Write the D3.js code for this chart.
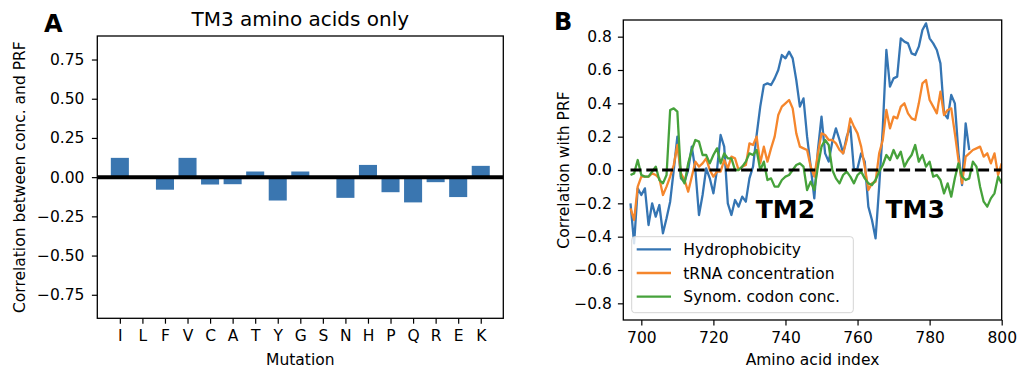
<!DOCTYPE html>
<html>
<head>
<meta charset="utf-8">
<script src="https://cdn.jsdelivr.net/npm/d3@7"></script>
<style>
  html, body { margin: 0; padding: 0; background: #fff; }
  svg { display: block; }
  text { font-family: "DejaVu Sans", sans-serif; fill: #000; }
</style>
</head>
<body>
<svg id="fig" width="1018" height="368"></svg>
<script>
// ---- Panel A: correlation per substituted amino acid (TM3 only) ----
const mutations = ["I","L","F","V","C","A","T","Y","G","S","N","H","P","Q","R","E","K"];
const tm3Correlation = [0.123, 0, -0.08, 0.123, -0.047, -0.045, 0.036, -0.149, 0.036, 0, -0.132, 0.078, -0.096, -0.161, -0.032, -0.127, 0.072];
const tickValuesA = [-0.75, -0.5, -0.25, 0, 0.25, 0.5, 0.75];

// ---- Panel B: sliding correlation with PRF along the sequence ----
const firstResidue = 697;
const hydrophobicity = [
  -0.20, -0.44, -0.11, -0.15, -0.11, -0.33, -0.20, -0.28, -0.21, -0.38,
  -0.29, -0.19,  0.00,  0.20, -0.05, -0.07,  0.00,  0.14,  0.00, -0.27,
  -0.15,  0.01, -0.05, -0.14,  0.00,  0.21,  0.14, -0.20, -0.27, -0.18,
  -0.22, -0.16, -0.19, -0.05,  0.02,  0.21,  0.38,  0.51,  0.52,  0.51,
   0.55,  0.60,  0.69,  0.67,  0.71,  0.67,  0.54,  0.38,  0.43,  0.20,
   0.02, -0.17,  0.12,  0.32,  0.10,  0.05,  0.17,  0.25,  0.18,  0.10,
   0.20,  0.26,  0.00,  0.01,  0.10,  0.05, -0.22, -0.30, -0.41, -0.10,
   0.25,  0.72,  0.50,  0.55,  0.56,  0.79,  0.77,  0.76,  0.70,  0.69,
   0.74,  0.84,  0.88,  0.79,  0.76,  0.72,  0.64,  0.34,  0.31,  0.45,
   0.40,  0.10, -0.09,  0.28,  0.12
];
const trnaConcentration = [
  -0.23, -0.30, -0.10, -0.04, -0.04, -0.04, -0.02, -0.03, -0.05, -0.15,
  -0.10, -0.04,  0.03,  0.15, -0.02, -0.06, -0.13, -0.04,  0.05,  0.02,
   0.04,  0.07,  0.00, -0.04, -0.01, -0.01,  0.06,  0.01,  0.08,  0.07,
   0.00,  0.02,  0.03,  0.16,  0.15,  0.20,  0.04,  0.14,  0.05,  0.13,
   0.20,  0.33,  0.38,  0.40,  0.42,  0.37,  0.22,  0.14,  0.13,  0.12,
   0.02, -0.04,  0.10,  0.22,  0.21,  0.18,  0.18,  0.16,  0.12,  0.10,
   0.18,  0.31,  0.26,  0.22,  0.14,  0.02, -0.12, -0.08, -0.07,  0.10,
   0.18,  0.36,  0.25,  0.32,  0.31,  0.38,  0.40,  0.34,  0.31,  0.30,
   0.40,  0.52,  0.54,  0.42,  0.38,  0.34,  0.47,  0.33,  0.36,  0.37,
   0.22,  0.06, -0.08,  0.08,  0.10,  0.12,  0.13,  0.14,  0.08,  0.10,
   0.04,  0.10, -0.03,  0.04
];
const synonymousCodon = [
  -0.03, -0.02,  0.06, -0.03, -0.04, -0.04, -0.01,  0.02, -0.06, -0.08,
  -0.03,  0.36,  0.37,  0.35, -0.04, -0.08,  0.04,  0.12,  0.18,  0.17,
   0.09,  0.09,  0.04,  0.09,  0.13,  0.04,  0.10,  0.07,  0.07,  0.00,
   0.00,  0.02,  0.05,  0.10,  0.09,  0.12,  0.00,  0.05, -0.06, -0.05,
  -0.10, -0.10, -0.06, -0.04, -0.03,  0.00,  0.03,  0.04,  0.02, -0.12,
  -0.07, -0.12,  0.02,  0.14,  0.18,  0.15,  0.00, -0.05, -0.08, -0.03,
  -0.01, -0.04, -0.08, -0.03, -0.01, -0.05, -0.08, -0.09, -0.06, -0.01,
   0.03,  0.09,  0.06,  0.12,  0.07,  0.11,  0.02,  0.06,  0.09,  0.15,
   0.05,  0.09,  0.02,  0.05, -0.04, -0.03, -0.06, -0.14, -0.08, -0.16,
  -0.05,  0.04, -0.04, -0.06, -0.05,  0.05,  0.02, -0.10, -0.19, -0.22,
  -0.17, -0.14, -0.04, -0.08
];
const seriesNames = ["Hydrophobicity", "tRNA concentration", "Synom. codon conc."];
const seriesColors = ["#3575b3", "#f5862c", "#46a23b"];
const tickValuesBx = [700, 720, 740, 760, 780, 800];
const tickValuesBy = [-0.8, -0.6, -0.4, -0.2, 0, 0.2, 0.4, 0.6, 0.8];
const regionLabels = [{ name: "TM2", at: 740 }, { name: "TM3", at: 776 }];

const svg = d3.select("#fig");
const FS = 15.5;

function styleAxis(g) {
  g.select(".domain").remove();
  g.selectAll(".tick line").attr("stroke", "#000").attr("stroke-width", 1.2);
  g.selectAll(".tick text").attr("font-size", FS).attr("font-family", "DejaVu Sans").attr("fill", "#000");
}

// ================= Panel A =================
const A = { left: 97.3, right: 503.3, top: 36, bottom: 318.3 };
const xA = d3.scaleLinear().domain([-1, mutations.length]).range([A.left, A.right]);
const yA = d3.scaleLinear().domain([-0.9, 0.9]).range([A.bottom, A.top]);
const barW = 0.8;

const gA = svg.append("g");
gA.selectAll("rect.bar")
  .data(mutations.map((m, i) => ({ m, i, v: tm3Correlation[i] })))
  .join("rect")
  .attr("class", "bar")
  .attr("x", d => xA(d.i - barW / 2))
  .attr("width", d => xA(d.i + barW / 2) - xA(d.i - barW / 2))
  .attr("y", d => yA(Math.max(0, d.v)))
  .attr("height", d => Math.abs(yA(d.v) - yA(0)))
  .attr("fill", "#3a76b0");

// zero reference line
gA.append("line")
  .attr("x1", A.left).attr("x2", A.right)
  .attr("y1", yA(0)).attr("y2", yA(0))
  .attr("stroke", "#000").attr("stroke-width", 4);

gA.append("g")
  .attr("transform", `translate(${A.left},0)`)
  .call(d3.axisLeft(yA).tickValues(tickValuesA).tickFormat(d3.format(".2f")).tickSize(5.4).tickPadding(7.5))
  .call(styleAxis);

gA.append("g")
  .attr("transform", `translate(0,${A.bottom})`)
  .call(d3.axisBottom(xA).tickValues(d3.range(mutations.length)).tickFormat(i => mutations[i]).tickSize(5.4).tickPadding(6.5))
  .call(styleAxis);

gA.append("rect")
  .attr("x", A.left).attr("y", A.top)
  .attr("width", A.right - A.left).attr("height", A.bottom - A.top)
  .attr("fill", "none").attr("stroke", "#000").attr("stroke-width", 1.3);

gA.append("text")
  .attr("x", (A.left + A.right) / 2).attr("y", 26)
  .attr("text-anchor", "middle").attr("font-size", 20)
  .text("TM3 amino acids only");

gA.append("text")
  .attr("transform", `translate(24.5,${(A.top + A.bottom) / 2}) rotate(-90)`)
  .attr("text-anchor", "middle").attr("font-size", FS)
  .text("Correlation between conc. and PRF");

gA.append("text")
  .attr("x", (A.left + A.right) / 2).attr("y", 365)
  .attr("text-anchor", "middle").attr("font-size", FS)
  .text("Mutation");

gA.append("text")
  .attr("x", 44).attr("y", 32.3)
  .attr("font-family", "Liberation Sans, Arial, sans-serif")
  .attr("font-weight", "bold").attr("font-size", 24)
  .text("A");

// ================= Panel B =================
const B = { left: 623.3, right: 1001.7, top: 20, bottom: 320 };
const xB = d3.scaleLinear().domain([695, 800]).range([B.left, B.right]);
const yB = d3.scaleLinear().domain([-0.9, 0.9]).range([B.bottom, B.top]);

const gB = svg.append("g");
const clip = gB.append("clipPath").attr("id", "clipB");
clip.append("rect").attr("x", B.left).attr("y", B.top)
  .attr("width", B.right - B.left).attr("height", B.bottom - B.top);

const plot = gB.append("g").attr("clip-path", "url(#clipB)");
const line = d3.line().x((d, i) => xB(firstResidue + i)).y(d => yB(d));

[hydrophobicity, trnaConcentration, synonymousCodon].forEach((vals, k) => {
  plot.append("path")
    .datum(vals)
    .attr("d", line)
    .attr("fill", "none")
    .attr("stroke", seriesColors[k])
    .attr("stroke-width", 2.3)
    .attr("stroke-linejoin", "round");
});

// dashed zero line over the sampled range
const lastResidue = firstResidue + trnaConcentration.length - 1;
plot.append("line")
  .attr("x1", xB(firstResidue)).attr("x2", xB(lastResidue))
  .attr("y1", yB(0)).attr("y2", yB(0))
  .attr("stroke", "#000").attr("stroke-width", 3)
  .attr("stroke-dasharray", "11,4.8");

gB.append("g")
  .attr("transform", `translate(${B.left},0)`)
  .call(d3.axisLeft(yB).tickValues(tickValuesBy).tickFormat(d3.format(".1f")).tickSize(5.4).tickPadding(6))
  .call(styleAxis);

gB.append("g")
  .attr("transform", `translate(0,${B.bottom})`)
  .call(d3.axisBottom(xB).tickValues(tickValuesBx).tickFormat(d3.format("d")).tickSize(5.4).tickPadding(6.5))
  .call(styleAxis);

gB.append("rect")
  .attr("x", B.left).attr("y", B.top)
  .attr("width", B.right - B.left).attr("height", B.bottom - B.top)
  .attr("fill", "none").attr("stroke", "#000").attr("stroke-width", 1.3);

// transmembrane segment labels
gB.selectAll("text.tm")
  .data(regionLabels)
  .join("text")
  .attr("class", "tm")
  .attr("x", d => xB(d.at)).attr("y", 218.3)
  .attr("text-anchor", "middle")
  .attr("font-family", "Lato, sans-serif")
  .attr("font-weight", "bold").attr("font-size", 25)
  .text(d => d.name);

// legend
const leg = gB.append("g");
leg.append("rect")
  .attr("x", 631.7).attr("y", 236.7).attr("width", 221.6).attr("height", 76)
  .attr("rx", 3).attr("fill", "#fff").attr("fill-opacity", 0.8)
  .attr("stroke", "#d4d4d4").attr("stroke-width", 1);
seriesNames.forEach((name, k) => {
  const y = 249.3 + k * 23.7;
  leg.append("line")
    .attr("x1", 636.7).attr("x2", 671).attr("y1", y).attr("y2", y)
    .attr("stroke", seriesColors[k]).attr("stroke-width", 2.3);
  leg.append("text")
    .attr("x", 683.3).attr("y", y + 5.6)
    .attr("font-size", FS)
    .text(name);
});

gB.append("text")
  .attr("transform", `translate(569,${(B.top + B.bottom) / 2}) rotate(-90)`)
  .attr("text-anchor", "middle").attr("font-size", FS)
  .text("Correlation with PRF");

gB.append("text")
  .attr("x", (B.left + B.right) / 2).attr("y", 365)
  .attr("text-anchor", "middle").attr("font-size", FS)
  .text("Amino acid index");

gB.append("text")
  .attr("x", 554).attr("y", 30)
  .attr("font-family", "Liberation Sans, Arial, sans-serif")
  .attr("font-weight", "bold").attr("font-size", 24)
  .text("B");
</script>
</body>
</html>
